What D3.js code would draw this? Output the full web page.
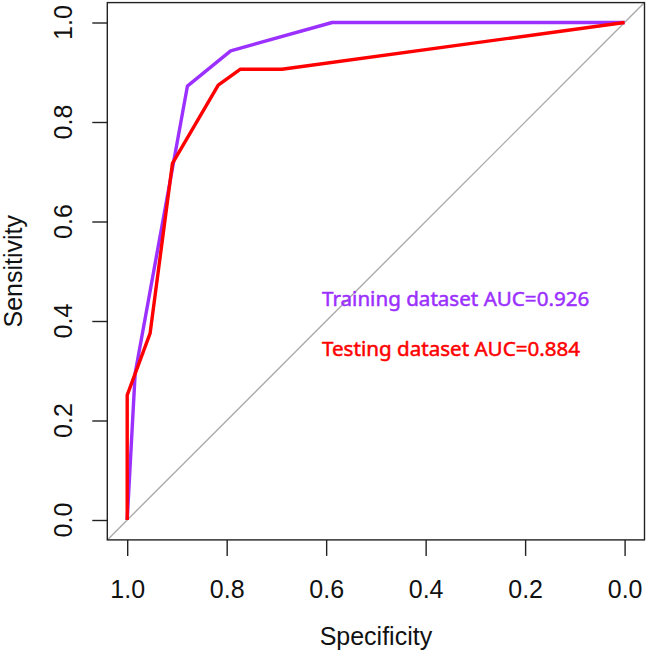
<!DOCTYPE html>
<html>
<head>
<meta charset="utf-8">
<script src="https://cdn.jsdelivr.net/npm/d3@7"></script>
<style>
  body { margin: 0; background: #fff; }
  svg { display: block; }
  .axis text { font-family: "Liberation Sans", Arial, sans-serif; font-size: 25px; fill: #111; }
  .axis path, .axis line { stroke: #222; stroke-width: 1.4px; }
  .label { font-family: "Liberation Sans", Arial, sans-serif; font-size: 25px; fill: #111; }
  .legend { font-family: "Noto Sans", sans-serif; font-size: 20.6px; stroke-width: 0.5px; }
</style>
</head>
<body>
<svg id="chart"></svg>
<script>
// ROC points: specificity / sensitivity
var trainSpec = [1.0, 0.984, 0.879, 0.792, 0.588, 0.0];
var trainSens = [0.0, 0.295, 0.872, 0.943, 1.0, 1.0];

var testSpec = [1.0, 1.0, 0.954, 0.909, 0.817, 0.773, 0.689, 0.0];
var testSens = [0.0, 0.251, 0.375, 0.717, 0.874, 0.906, 0.906, 1.0];

var tickValues = [1.0, 0.8, 0.6, 0.4, 0.2, 0.0];
var legendLabels = ["Training dataset AUC=0.926", "Testing dataset AUC=0.884"];
var colors = ["#9B30FF", "#FF0000"];

var width = 646, height = 654;

var svg = d3.select('#chart')
	.attr("width", width)
	.attr("height", height);

//scales (x reversed, like plot.roc)
var x = d3.scaleLinear().domain([1, 0]).range([127.2, 624.6]);
var y = d3.scaleLinear().domain([0, 1]).range([520, 22.5]);

//plot box extends 4% past the data range
var x0 = x(1.04), x1 = x(-0.04), y0 = y(-0.04), y1 = y(1.04);

//diagonal reference line across the full plot region
svg.append("line")
	.attr("x1", x(1.04)).attr("y1", y(-0.04))
	.attr("x2", x(-0.04)).attr("y2", y(1.04))
	.attr("stroke", "#aaaaaa")
	.attr("stroke-width", 1.4);

//curves
function toPoints(spec, sens) {
	return spec.map(function(d, i) { return [d, sens[i]]; });
}
var line = d3.line()
	.x(function(d) { return x(d[0]); })
	.y(function(d) { return y(d[1]); });

svg.append("path")
	.datum(toPoints(trainSpec, trainSens))
	.attr("d", line)
	.attr("fill", "none")
	.attr("stroke", colors[0])
	.attr("stroke-width", 3.4)
	.attr("stroke-linejoin", "round");

svg.append("path")
	.datum(toPoints(testSpec, testSens))
	.attr("d", line)
	.attr("fill", "none")
	.attr("stroke", colors[1])
	.attr("stroke-width", 3.4)
	.attr("stroke-linejoin", "round");

//box
svg.append("rect")
	.attr("x", x0).attr("y", y1)
	.attr("width", x1 - x0).attr("height", y0 - y1)
	.attr("fill", "none")
	.attr("stroke", "#222")
	.attr("stroke-width", 1.4);

//x axis
var gx = svg.append("g")
	.attr("class", "axis")
	.attr("transform", "translate(0," + y0 + ")")
	.call(d3.axisBottom(x).tickValues(tickValues).tickSize(16).tickPadding(24)
		.tickFormat(d3.format(".1f")));
gx.select(".domain").remove();

//y axis
var gy = svg.append("g")
	.attr("class", "axis")
	.attr("transform", "translate(" + x0 + ",0)")
	.call(d3.axisLeft(y).tickValues(tickValues).tickSize(15).tickFormat(""));
gy.select(".domain").remove();

//rotated y tick labels
svg.selectAll(".ylab")
	.data(tickValues)
	.enter().append("text")
	.attr("class", "label")
	.attr("text-anchor", "middle")
	.attr("transform", function(d) { return "translate(72," + y(d) + ") rotate(-90)"; })
	.text(d3.format(".1f"));

//axis titles
svg.append("text")
	.attr("class", "label")
	.attr("text-anchor", "middle")
	.attr("x", (x0 + x1) / 2)
	.attr("y", 645)
	.text("Specificity");

svg.append("text")
	.attr("class", "label")
	.attr("text-anchor", "middle")
	.attr("transform", "translate(22," + (y0 + y1) / 2 + ") rotate(-90)")
	.text("Sensitivity");

//legend text (slight stroke for the heavier look)
svg.selectAll(".legend")
	.data(legendLabels)
	.enter().append("text")
	.attr("class", "legend")
	.attr("x", 322)
	.attr("y", function(d, i) { return 306 + i * 50; })
	.attr("fill", function(d, i) { return colors[i]; })
	.attr("stroke", function(d, i) { return colors[i]; })
	.text(function(d) { return d; });
</script>
</body>
</html>
